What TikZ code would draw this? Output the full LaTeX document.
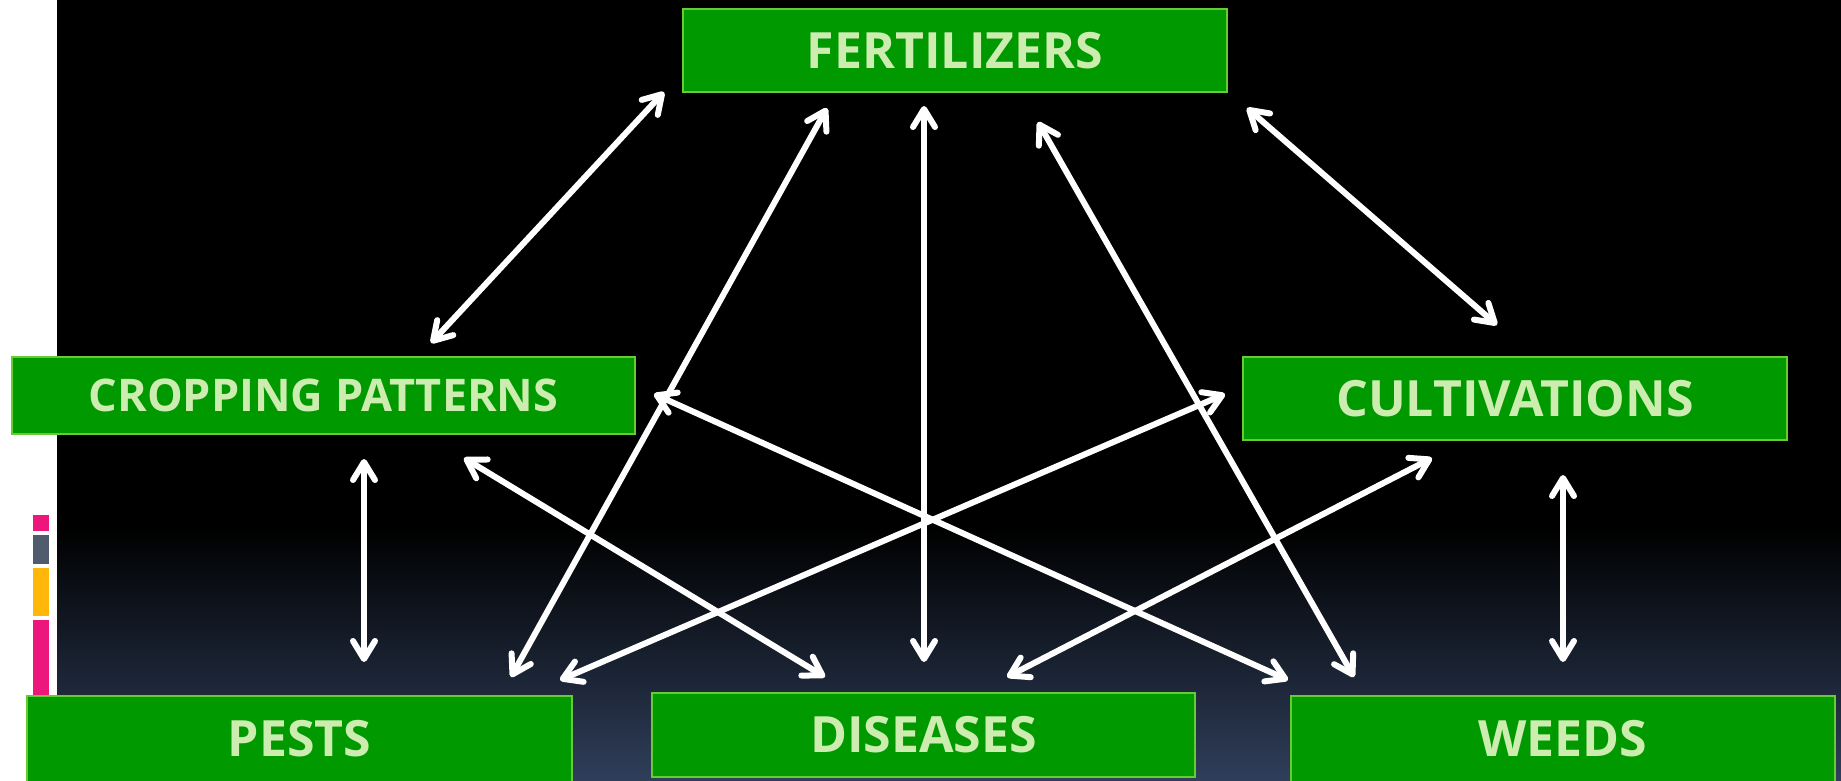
\documentclass[tikz,border=0pt]{standalone}
\usepackage{fontspec}
\setmainfont{Open Sans}
\usetikzlibrary{arrows.meta}
\definecolor{boxfill}{RGB}{0,153,0}
\definecolor{boxline}{RGB}{102,204,51}
\definecolor{boxtext}{RGB}{204,236,176}
\definecolor{bgbottom}{RGB}{47,62,90}
\definecolor{barpink}{RGB}{236,22,124}
\definecolor{bargray}{RGB}{80,92,110}
\definecolor{baryellow}{RGB}{255,183,10}
\tikzset{
  box/.style={draw=boxline, line width=2pt, fill=boxfill, text=boxtext,
    font=\bfseries\fontsize{50}{60}\selectfont, inner sep=0pt},
  link/.style={draw=white, line width=6pt, line cap=round,
    {Straight Barb[length=18pt,width=22pt,line cap=round,line join=round]}-{Straight Barb[length=18pt,width=22pt,line cap=round,line join=round]}}
}
\begin{document}
\begin{tikzpicture}[x=1pt,y=-1pt]
\useasboundingbox (0,0) rectangle (1841,780);
% background
\fill[white] (0,0) rectangle (1841,780);
\fill[black] (57,0) rectangle (1841,528);
\shade[top color=black, bottom color=bgbottom] (57,527) rectangle (1841,780);
% side bars
\fill[barpink] (33,515) rectangle (49,531);
\fill[bargray] (33,535) rectangle (49,564);
\fill[baryellow] (33,568) rectangle (49,616);
\fill[barpink] (33,620) rectangle (49,700);
% boxes
\node[box, minimum width=544pt, minimum height=83pt] (fert) at (955,50.5) {FERTILIZERS};
\node[box, minimum width=623pt, minimum height=77pt, font=\bfseries\fontsize{45}{54}\selectfont] (crop) at (323.5,395.5) {CROPPING PATTERNS};
\node[box, minimum width=544pt, minimum height=83pt] (cult) at (1515,398.5) {CULTIVATIONS};
\node[box, minimum width=545pt, minimum height=86pt] (pests) at (299.5,739) {PESTS};
\node[box, minimum width=543pt, minimum height=84pt] (dis) at (923.5,735) {DISEASES};
\node[box, minimum width=544pt, minimum height=86pt] (weeds) at (1563,739) {WEEDS};
% arrow end points
\coordinate (a1) at (664,92);   \coordinate (b1) at (431,343);
\coordinate (a2) at (827,108);  \coordinate (b2) at (511,677);
\coordinate (a3) at (924,106);  \coordinate (b3) at (924,662);
\coordinate (a4) at (1038,122); \coordinate (b4) at (1354,677);
\coordinate (a5) at (1247,108); \coordinate (b5) at (1497,325);
\coordinate (a6) at (364,459);  \coordinate (b6) at (364,662);
\coordinate (a7) at (464,458);  \coordinate (b7) at (825,677);
\coordinate (a8) at (654,394);  \coordinate (b8) at (1288,680);
\coordinate (a9) at (1225,394); \coordinate (b9) at (560,680);
\coordinate (a10) at (1432,458); \coordinate (b10) at (1007,677);
\coordinate (a11) at (1563,475); \coordinate (b11) at (1563,662);
\foreach \i in {1,...,11} {\draw[link] (a\i) -- (b\i);}
\end{tikzpicture}
\end{document}
